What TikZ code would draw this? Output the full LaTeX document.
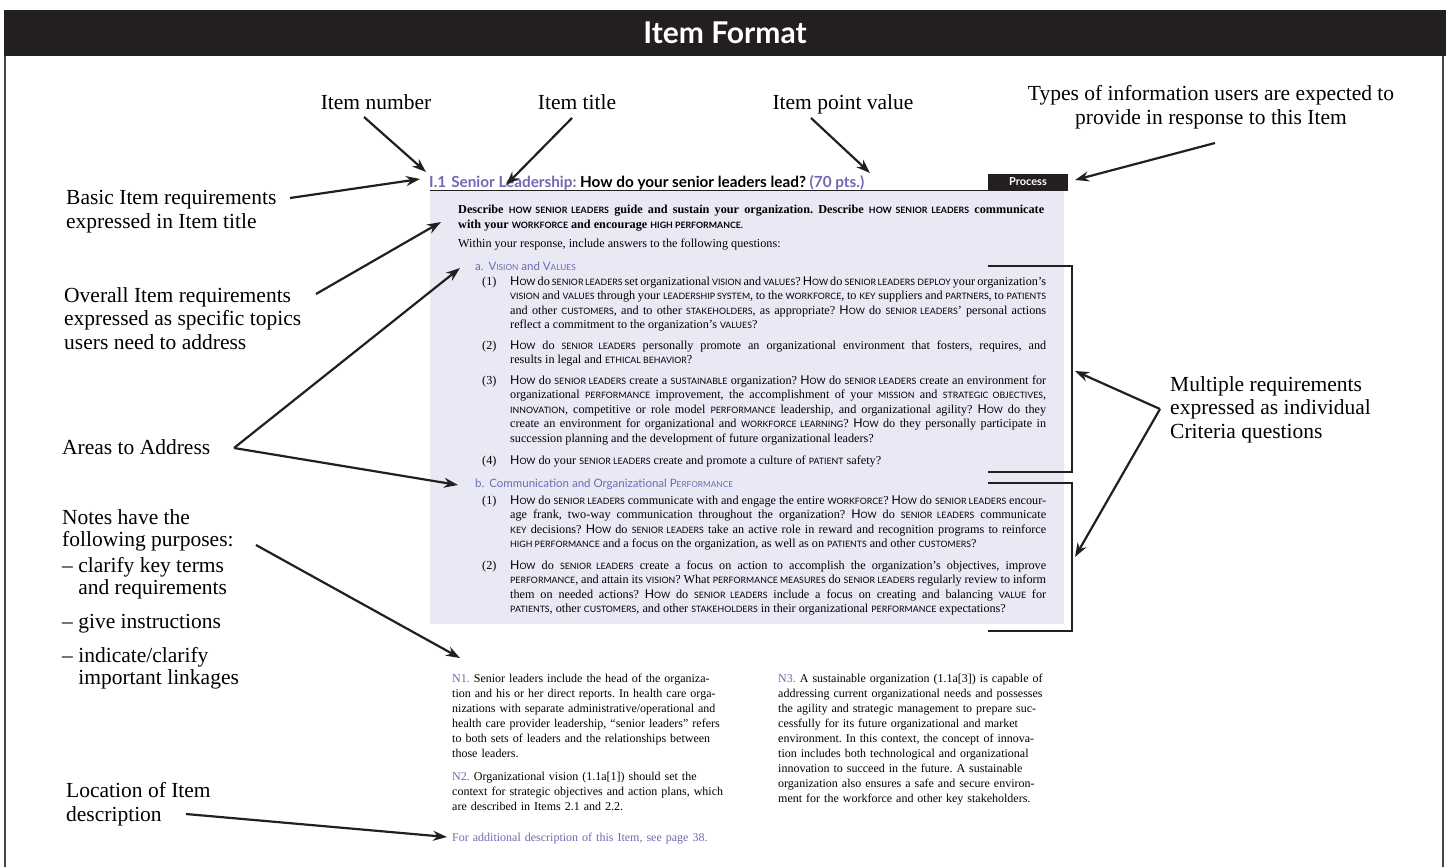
\documentclass[tikz,border=0pt]{standalone}
\usepackage{fontspec}
\setmainfont{Liberation Serif}
\newfontfamily\sansf{Lato}
\newfontfamily\ktf{Lato}[Scale=0.72]
\usetikzlibrary{arrows.meta}
\definecolor{hdr}{HTML}{231F20}
\definecolor{purp}{RGB}{112,104,178}
\definecolor{lav}{RGB}{233,233,245}
\definecolor{framec}{RGB}{70,70,70}
\newcommand\kt[1]{{\ktf\MakeUppercase{#1}}}
\newcommand\How{{\sansf H\ktf OW}}
\frenchspacing
\tikzset{
  lbl/.style={font=\fontsize{21.5}{23.5}\selectfont, align=left, inner sep=0pt, anchor=base west},
  toplbl/.style={font=\fontsize{21.5}{23.5}\selectfont, align=center, inner sep=0pt, anchor=base},
  body/.style={font=\fontsize{12.2}{14.6}\selectfont, inner sep=0pt, anchor=base west, text width=536pt, align=justify},
  num/.style={font=\fontsize{12.2}{14.6}\selectfont, inner sep=0pt, anchor=base west},
  head/.style={font=\sansf\fontsize{11.5}{13}\selectfont, text=purp, inner sep=0pt, anchor=base west},
  note/.style={font=\fontsize{12}{15}\selectfont, inner sep=0pt, anchor=base west, text width=300pt, align=left},
  arr/.style={-{Stealth[length=14pt,width=10pt]}, line width=2.2pt, draw=hdr},
  brk/.style={line width=1.1pt, draw=hdr},
}
\begin{document}
\begin{tikzpicture}[x=1pt,y=-1pt]
\useasboundingbox (0,0) rectangle (1450,867);
% header and frame
\fill[hdr] (4,10) rectangle (1446,56);
\node[text=white, font=\sansf\bfseries\fontsize{30}{32}\selectfont, inner sep=0pt] (hd) at (725,33) {Item Format};
\draw[framec, line width=1.5pt] (5,56) -- (5,867);
\draw[framec, line width=1.5pt] (1443,56) -- (1443,867);

% item panel
\fill[lav] (430,190) rectangle (1064,624);
\draw[hdr, line width=1pt] (430,190) -- (1068,190);
\node[fill=hdr, text=white, font=\sansf\bfseries\fontsize{11}{12}\selectfont, minimum width=80pt, minimum height=16pt, inner sep=0pt] (proc) at (1028,182) {Process};
\node[anchor=base west, inner sep=0pt, font=\sansf\bfseries\fontsize{15.3}{17}\selectfont] (title) at (429,187)
  {\textcolor{purp}{I.1\hspace{5pt}Senior Leadership:} How do your senior leaders lead? \textcolor{purp}{(70 pts.)}};

\node[body, text width=586pt, font=\bfseries\fontsize{12.2}{15}\selectfont] (desc) at (458,213)
  {Describe \kt{how senior leaders} guide and sustain your organization. Describe \kt{how senior leaders} communicate\linebreak
   with your \kt{workforce} and encourage \kt{high performance.}};
\node[num] (within) at (458,247) {Within your response, include answers to the following questions:};

\node[head] (ha) at (475,270) {a.\hspace{5pt}V{\ktf ISION} and V{\ktf ALUES}};
\node[num] (n1) at (482,285) {(1)};
\node[body] (q1) at (510,285)
  {\How\ do \kt{senior leaders} set organizational \kt{vision} and \kt{values}? \How\ do \kt{senior leaders} \kt{deploy} your organization’s\linebreak
   \kt{vision} and \kt{values} through your \kt{leadership system}, to the \kt{workforce}, to \kt{key} suppliers and \kt{partners}, to \kt{patients}\linebreak
   and other \kt{customers}, and to other \kt{stakeholders}, as appropriate? \How\ do \kt{senior leaders}’ personal actions\linebreak
   reflect a commitment to the organization’s \kt{values}?};
\node[num] (n2) at (482,349) {(2)};
\node[body] (q2) at (510,349)
  {\How\ do \kt{senior leaders} personally promote an organizational environment that fosters, requires, and\linebreak
   results in legal and \kt{ethical behavior}?};
\node[num] (n3) at (482,384) {(3)};
\node[body] (q3) at (510,384)
  {\How\ do \kt{senior leaders} create a \kt{sustainable} organization? \How\ do \kt{senior leaders} create an environment for\linebreak
   organizational \kt{performance} improvement, the accomplishment of your \kt{mission} and \kt{strategic objectives},\linebreak
   \kt{innovation}, competitive or role model \kt{performance} leadership, and organizational agility? \How\ do they\linebreak
   create an environment for organizational and \kt{workforce learning}? \How\ do they personally participate in\linebreak
   succession planning and the development of future organizational leaders?};
\node[num] (n4) at (482,464) {(4)};
\node[body] (q4) at (510,464)
  {\How\ do your \kt{senior leaders} create and promote a culture of \kt{patient} safety?};

\node[head] (hb) at (475,487) {b.\hspace{5pt}Communication and Organizational P{\ktf ERFORMANCE}};
\node[num] (m1) at (482,504) {(1)};
\node[body] (r1) at (510,504)
  {\How\ do \kt{senior leaders} communicate with and engage the entire \kt{workforce}? \How\ do \kt{senior leaders} encour-\linebreak
   age frank, two-way communication throughout the organization? \How\ do \kt{senior leaders} communicate\linebreak
   \kt{key} decisions? \How\ do \kt{senior leaders} take an active role in reward and recognition programs to reinforce\linebreak
   \kt{high performance} and a focus on the organization, as well as on \kt{patients} and other \kt{customers}?};
\node[num] (m2) at (482,569) {(2)};
\node[body] (r2) at (510,569)
  {\How\ do \kt{senior leaders} create a focus on action to accomplish the organization’s objectives, improve\linebreak
   \kt{performance}, and attain its \kt{vision}? What \kt{performance measures} do \kt{senior leaders} regularly review to inform\linebreak
   them on needed actions? \How\ do \kt{senior leaders} include a focus on creating and balancing \kt{value} for\linebreak
   \kt{patients}, other \kt{customers}, and other \kt{stakeholders} in their organizational \kt{performance} expectations?};

% brackets
\draw[brk] (988,266) -- (1072,266) -- (1072,472) -- (988,472);
\draw[brk] (988,483) -- (1072,483) -- (1072,631) -- (988,631);

% notes
\node[note] (nn1) at (452,682)
  {\textcolor{purp}{N1.} Senior leaders include the head of the organiza-\\
   tion and his or her direct reports. In health care orga-\\
   nizations with separate administrative/operational and\\
   health care provider leadership, “senior leaders” refers\\
   to both sets of leaders and the relationships between\\
   those leaders.};
\node[note] (nn2) at (452,780)
  {\textcolor{purp}{N2.} Organizational vision (1.1a[1]) should set the\\
   context for strategic objectives and action plans, which\\
   are described in Items 2.1 and 2.2.};
\node[note, text=purp] (more) at (452,841) {For additional description of this Item, see page 38.};
\node[note] (nn3) at (778,682)
  {\textcolor{purp}{N3.} A sustainable organization (1.1a[3]) is capable of\\
   addressing current organizational needs and possesses\\
   the agility and strategic management to prepare suc-\\
   cessfully for its future organizational and market\\
   environment. In this context, the concept of innova-\\
   tion includes both technological and organizational\\
   innovation to succeed in the future. A sustainable\\
   organization also ensures a safe and secure environ-\\
   ment for the workforce and other key stakeholders.};

% labels (base = baseline of the last line)
\node[toplbl] (inum) at (376,109) {Item number};
\node[toplbl] (ititle) at (577,109) {Item title};
\node[toplbl] (ipv) at (843,109) {Item point value};
\node[toplbl] (types) at (1211,124) {Types of information users are expected to\\provide in response to this Item};
\node[lbl] (basic) at (66,228) {Basic Item requirements\\expressed in Item title};
\node[lbl] (overall) at (64,349) {Overall Item requirements\\expressed as specific topics\\users need to address};
\node[lbl] (areas) at (62,454) {Areas to Address};
\node[lbl, font=\fontsize{21.5}{22}\selectfont] (notes) at (62,684) {Notes have the\\following purposes:\\[4pt]– clarify key terms\\\hphantom{– }and requirements\\[12pt]– give instructions\\[12pt]– indicate/clarify\\\hphantom{– }important linkages};
\node[lbl] (loc) at (66,821) {Location of Item\\description};
\node[lbl] (multi) at (1170,438) {Multiple requirements\\expressed as individual\\Criteria questions};

% arrow end points
\coordinate (inumS) at (364,117);  \coordinate (inumT) at (426,172);
\coordinate (ititS) at (572,118);  \coordinate (ititT) at (506,185);
\coordinate (ipvS) at (811,118);   \coordinate (ipvT) at (870,173);
\coordinate (typS) at (1215,143);  \coordinate (typT) at (1075,180);
\coordinate (basS) at (290,198);   \coordinate (basT) at (420,179);
\coordinate (ovS) at (316,294);    \coordinate (ovT) at (441,222);
\coordinate (arS) at (234,448);    \coordinate (arTa) at (460,268); \coordinate (arTb) at (458,485);
\coordinate (noS) at (256,545);    \coordinate (noT) at (460,658);
\coordinate (loS) at (186,814);    \coordinate (loT) at (447,837);
\coordinate (muS) at (1160,409);   \coordinate (muTa) at (1075,371); \coordinate (muTb) at (1075,557);

\draw[arr] (inumS) -- (inumT);
\draw[arr] (ititS) -- (ititT);
\draw[arr] (ipvS) -- (ipvT);
\draw[arr] (typS) -- (typT);
\draw[arr] (basS) -- (basT);
\draw[arr] (ovS) -- (ovT);
\draw[arr] (arS) -- (arTa);
\draw[arr] (arS) -- (arTb);
\draw[arr] (noS) -- (noT);
\draw[arr] (loS) -- (loT);
\draw[arr] (muS) -- (muTa);
\draw[arr] (muS) -- (muTb);
\end{tikzpicture}
\end{document}
